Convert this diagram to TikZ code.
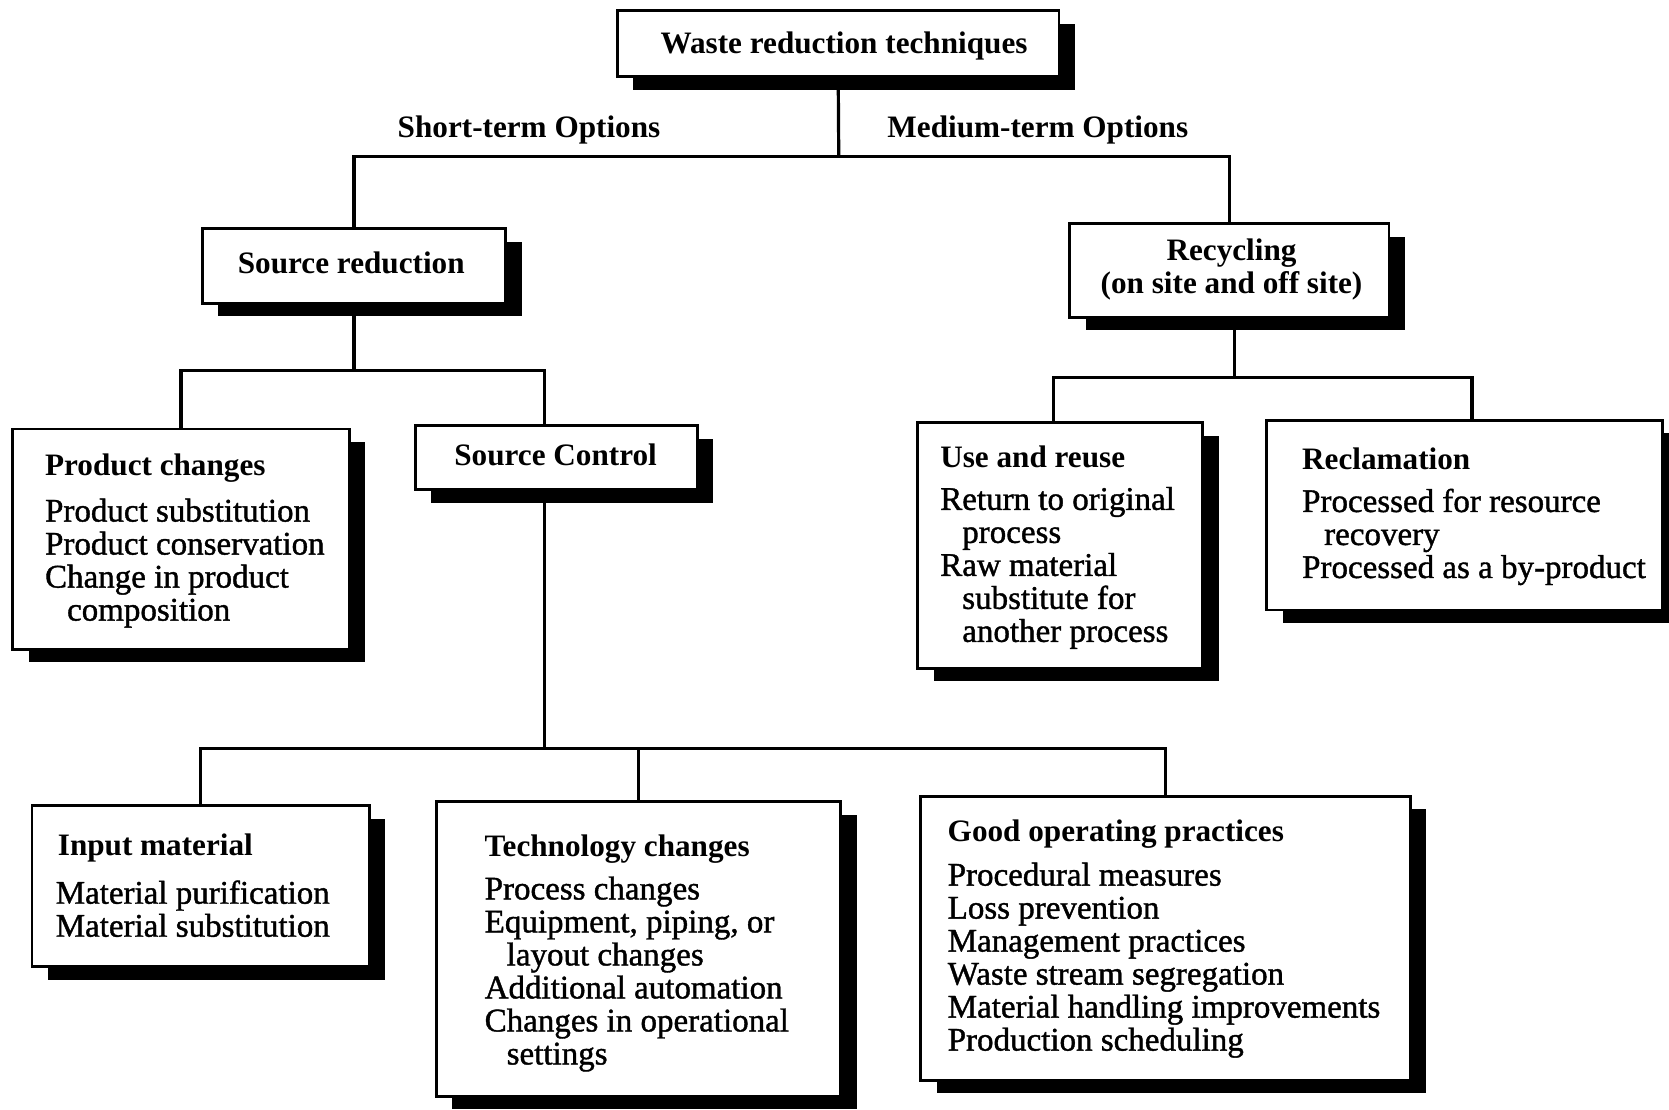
\documentclass[tikz,border=0pt]{standalone}
\usepackage{fontspec}
\setmainfont{Liberation Serif}
\newfontfamily\itemfamily[FakeBold=1.2]{Liberation Serif}
\usetikzlibrary{shadows,fit,calc}
\tikzset{
  box/.style={draw, line width=1.4pt, fill=white, inner sep=0pt,
    drop shadow={shadow xshift=8pt, shadow yshift=-6.5pt, fill=black, opacity=1}},
  conn/.style={line width=1.6pt},
  head/.style={inner sep=0pt, align=center, font=\bfseries\fontsize{15.6}{16.5}\selectfont},
  items/.style={inner sep=0pt, align=left, anchor=base west, font=\itemfamily\fontsize{16.5}{16.5}\selectfont},
}
\newcommand{\hang}{\hspace*{11pt}}
\begin{document}
\begin{tikzpicture}[x=0.5322pt, y=-0.5322pt]
\useasboundingbox[fill=white] (0,0) rectangle (1568,1042);

% boxes
\node[box, fit={(580,10)(995,72)}] (top) {};
\node[box, fit={(190,215)(475,285)}] (sr) {};
\node[box, fit={(1005,210)(1305,298)}] (rc) {};
\node[box, fit={(12,403)(328,610)}] (pc) {};
\node[box, fit={(390,400)(655,460)}] (sc) {};
\node[box, fit={(862,397)(1130,628)}] (ur) {};
\node[box, fit={(1190,395)(1562,573)}] (rl) {};
\node[box, fit={(30,757)(347,908)}] (im) {};
\node[box, fit={(410,753)(790,1030)}] (tc) {};
\node[box, fit={(865,748)(1325,1015)}] (gp) {};

% texts (multi-line nodes are placed at the baseline of their last line)
\node[head, anchor=base] (top-t) at (793,50) {Waste reduction techniques};
\node[head, anchor=base] (st) at (497,129) {Short-term Options};
\node[head, anchor=base] (mt) at (975,129) {Medium-term Options};
\node[head, anchor=base] (sr-t) at (330,257) {Source reduction};
\node[head, anchor=base] (rc-t) at (1157,276) {Recycling\\(on site and off site)};
\node[head, anchor=base] (sc-t) at (522,437) {Source Control};

\node[head, anchor=base west] (pc-h) at (42,447) {Product changes};
\node[items] (pc-i) at (42,583) {Product substitution\\Product conservation\\Change in product\\\hang composition};

\node[head, anchor=base west] (ur-h) at (883,439) {Use and reuse};
\node[items] (ur-i) at (883,603) {Return to original\\\hang process\\Raw material\\\hang substitute for\\\hang another process};

\node[head, anchor=base west] (rl-h) at (1223,441) {Reclamation};
\node[items] (rl-i) at (1223,543) {Processed for resource\\\hang recovery\\Processed as a by-product};

\node[head, anchor=base west] (im-h) at (54,804) {Input material};
\node[items] (im-i) at (52,880) {Material purification\\Material substitution};

\node[head, anchor=base west] (tc-h) at (455,805) {Technology changes};
\node[items] (tc-i) at (455,1000) {Process changes\\Equipment, piping, or\\\hang layout changes\\Additional automation\\Changes in operational\\\hang settings};

\node[head, anchor=base west] (gp-h) at (890,791) {Good operating practices};
\node[items] (gp-i) at (890,987) {Procedural measures\\Loss prevention\\Management practices\\Waste stream segregation\\Material handling improvements\\Production scheduling};

% junctions
\coordinate (j0) at (788,147);
\coordinate (j1) at (333,348);
\coordinate (j2) at (1160,355);
\coordinate (j3) at (513,703);
\coordinate (sct) at ($(sc.north west)+(123,0)$);
\coordinate (scb) at ($(sc.south west)+(123,0)$);
\coordinate (urt) at ($(ur.north)+(-6,0)$);
\coordinate (rlt) at ($(rl.north)+(7,0)$);
\coordinate (rcb) at ($(rc.south)+(5,0)$);

% connectors
\draw[conn] (top.south) -- (j0);
\draw[conn] (sr.north) -- (sr.north |- j0) -- (rc.north |- j0) -- (rc.north);
\draw[conn] (sr.south) -- (sr.south |- j1);
\draw[conn] (pc.north) -- (pc.north |- j1) -- (sct |- j1) -- (sct);
\draw[conn] (rcb) -- (rcb |- j2);
\draw[conn] (urt) -- (urt |- j2) -- (rlt |- j2) -- (rlt);
\draw[conn] (scb) -- (scb |- j3);
\draw[conn] (im.north) -- (im.north |- j3) -- (gp.north |- j3) -- (gp.north);
\draw[conn] (tc.north) -- (tc.north |- j3);
\end{tikzpicture}
\end{document}
